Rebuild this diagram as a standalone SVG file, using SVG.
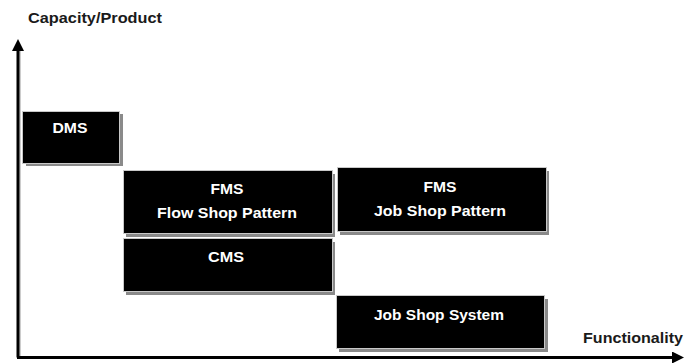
<svg xmlns="http://www.w3.org/2000/svg" width="688" height="363" viewBox="0 0 688 363">
<defs>
<style>
.box{fill:#000;stroke:#c8c8c8;stroke-width:1}
.sh{fill:#8a8a8a}
.lbl{font-family:"Liberation Sans",Arial,sans-serif;font-weight:bold;font-size:15px;fill:#fff;text-anchor:middle}
.ax{font-family:"Liberation Sans",Arial,sans-serif;font-weight:bold;font-size:15px;fill:#1a1a1a}
.axis{stroke:#000;stroke-width:3;fill:none}
</style>
<marker id="ah" markerWidth="4" markerHeight="4" refX="2" refY="2" orient="auto" markerUnits="strokeWidth">
<path d="M0,0 L4,2 L0,4 z" fill="#000"/>
</marker>
</defs>
<rect width="688" height="363" fill="#fff"/>
<g id="connectors">
<path d="M20,359 L20,48" stroke="#999" stroke-width="1" fill="none"/>
<path d="M18,357.5 L18,45" class="axis" marker-end="url(#ah)"/>
<path d="M17,357.5 L678,357.5" class="axis" marker-end="url(#ah)"/>
</g>
<text class="ax" x="28" y="23" textLength="134" lengthAdjust="spacingAndGlyphs">Capacity/Product</text>
<text class="ax" x="583" y="343" textLength="100" lengthAdjust="spacingAndGlyphs">Functionality</text>
<g id="dms">
<rect class="sh" x="26" y="114" width="97" height="52"/>
<rect class="box" x="22.5" y="111.5" width="97" height="52"/>
<text class="lbl" x="70" y="133" textLength="35" lengthAdjust="spacingAndGlyphs">DMS</text>
</g>
<g id="fms-flow">
<rect class="sh" x="126" y="174" width="209" height="63"/>
<rect class="box" x="123.5" y="170.5" width="209" height="63"/>
<text class="lbl" x="227" y="194" textLength="33" lengthAdjust="spacingAndGlyphs">FMS</text>
<text class="lbl" x="227" y="218" textLength="140" lengthAdjust="spacingAndGlyphs">Flow Shop Pattern</text>
</g>
<g id="fms-job">
<rect class="sh" x="340" y="171" width="209" height="64"/>
<rect class="box" x="337.5" y="167.5" width="209" height="64"/>
<text class="lbl" x="440" y="192" textLength="33" lengthAdjust="spacingAndGlyphs">FMS</text>
<text class="lbl" x="440" y="216" textLength="132" lengthAdjust="spacingAndGlyphs">Job Shop Pattern</text>
</g>
<g id="cms">
<rect class="sh" x="126" y="242" width="209" height="53"/>
<rect class="box" x="123.5" y="238.5" width="209" height="53"/>
<text class="lbl" x="226" y="262" textLength="36" lengthAdjust="spacingAndGlyphs">CMS</text>
</g>
<g id="jss">
<rect class="sh" x="339" y="299" width="209" height="53"/>
<rect class="box" x="336.5" y="295.5" width="208" height="53"/>
<text class="lbl" x="439" y="320" textLength="130" lengthAdjust="spacingAndGlyphs">Job Shop System</text>
</g>
</svg>
